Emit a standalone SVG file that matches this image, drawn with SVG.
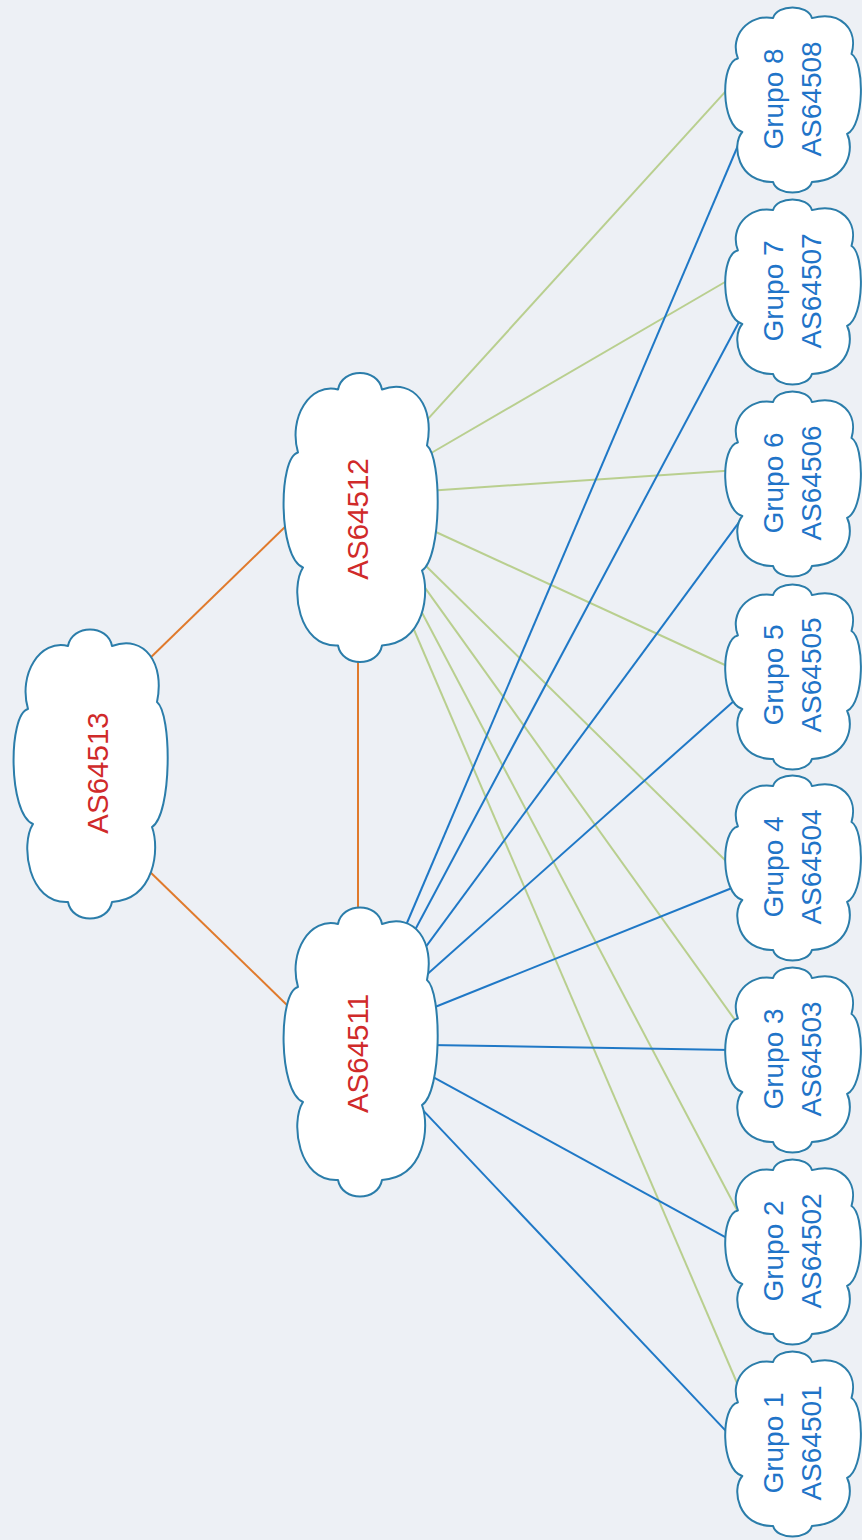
<svg xmlns="http://www.w3.org/2000/svg" xmlns:xlink="http://www.w3.org/1999/xlink" width="862" height="1540" viewBox="0 0 862 1540">
  <style>
    .cloud { fill: #ffffff; stroke: #2b7daa; stroke-width: 2; stroke-linejoin: round; }
    .big { font-family: "Liberation Sans", Arial, sans-serif; font-size: 29.5px; fill: #d02a2a; text-anchor: middle; }
    .small { font-family: "Liberation Sans", Arial, sans-serif; font-size: 28px; fill: #1f74c8; text-anchor: middle; }
    .orange { stroke: #e07a2c; stroke-width: 2; fill: none; }
    .blue { stroke: #1f78c6; stroke-width: 2; fill: none; }
    .green { stroke: #b9cf8f; stroke-width: 2; fill: none; }
  </style>
  <defs>
    <path id="bigCloud" class="cloud" d="M -22 -128 C -18 -150 18 -150 22 -128 C 55 -140 75 -110 67 -72 C 82 -60 82 40 62 53 C 70 75 65 125 22 128 C 18 150 -18 150 -22 128 C -62 130 -70 70 -57 50 C -82 40 -82 -60 -62 -65 C -72 -100 -50 -135 -22 -128 Z"/>
    <path id="smallCloud" class="cloud" d="M -19.4 -81.9 C -15.8 -96 15.8 -96 19.4 -81.9 C 48.4 -89.6 66 -70.4 59 -46 C 72.2 -38.4 72.2 25.6 54.6 33.9 C 61.6 48 57.2 80 19.4 81.9 C 15.8 96 -15.8 96 -19.4 81.9 C -54.6 83.2 -61.6 44.8 -50.2 32 C -72.2 25.6 -72.2 -38.4 -54.6 -41.6 C -63.4 -64 -44 -86.4 -19.4 -81.9 Z"/>
  </defs>
  <rect x="0" y="0" width="862" height="1540" fill="#edf0f5"/>

  <g id="connectors">
    <line class="orange" x1="143.7" y1="664.2" x2="289.3" y2="522.8"/>
    <line class="orange" x1="143.7" y1="865.8" x2="291.3" y2="1009.2"/>
    <line class="orange" x1="358" y1="656" x2="358" y2="913"/>

    <line class="green" x1="423" y1="424.4" x2="729" y2="87.6"/>
    <line class="green" x1="427.8" y1="455" x2="730.2" y2="279"/>
    <line class="green" x1="434" y1="490.4" x2="731" y2="470.6"/>
    <line class="green" x1="432.6" y1="530.5" x2="730.4" y2="667.5"/>
    <line class="green" x1="422.7" y1="562.8" x2="731.3" y2="866.2"/>
    <line class="green" x1="419.5" y1="580.1" x2="738.5" y2="1024.9"/>
    <line class="green" x1="415.2" y1="599.7" x2="740.8" y2="1217.3"/>
    <line class="green" x1="409.6" y1="619.5" x2="742.4" y2="1395.5"/>

    <line class="blue" x1="404.6" y1="928.5" x2="741.4" y2="137.5"/>
    <line class="blue" x1="412.2" y1="935.3" x2="741.8" y2="316.7"/>
    <line class="blue" x1="418.4" y1="956.8" x2="740.6" y2="520.2"/>
    <line class="blue" x1="418.5" y1="982" x2="739.5" y2="696"/>
    <line class="blue" x1="429.4" y1="1009.2" x2="737.6" y2="885.8"/>
    <line class="blue" x1="429" y1="1045" x2="731" y2="1050"/>
    <line class="blue" x1="427.7" y1="1074.1" x2="730.3" y2="1239.9"/>
    <line class="blue" x1="413.9" y1="1100.6" x2="729.1" y2="1434.4"/>
  </g>

  <g id="as64513">
    <use xlink:href="#bigCloud" transform="translate(90,774)"/>
    <text class="big" transform="translate(108,773) rotate(-90)">AS64513</text>
  </g>
  <g id="as64512">
    <use xlink:href="#bigCloud" transform="translate(360,517.5)"/>
    <text class="big" transform="translate(368,519) rotate(-90)">AS64512</text>
  </g>
  <g id="as64511">
    <use xlink:href="#bigCloud" transform="translate(360,1052)"/>
    <text class="big" transform="translate(368,1053.5) rotate(-90)">AS64511</text>
  </g>

  <g id="grupo8">
    <use xlink:href="#smallCloud" transform="translate(792.5,100)"/>
    <text class="small" transform="translate(783,99) rotate(-90)">Grupo 8</text>
    <text class="small" transform="translate(821,99) rotate(-90)">AS64508</text>
  </g>
  <g id="grupo7">
    <use xlink:href="#smallCloud" transform="translate(792.5,292)"/>
    <text class="small" transform="translate(783,291) rotate(-90)">Grupo 7</text>
    <text class="small" transform="translate(821,291) rotate(-90)">AS64507</text>
  </g>
  <g id="grupo6">
    <use xlink:href="#smallCloud" transform="translate(792.5,484)"/>
    <text class="small" transform="translate(783,483) rotate(-90)">Grupo 6</text>
    <text class="small" transform="translate(821,483) rotate(-90)">AS64506</text>
  </g>
  <g id="grupo5">
    <use xlink:href="#smallCloud" transform="translate(792.5,677)"/>
    <text class="small" transform="translate(783,675) rotate(-90)">Grupo 5</text>
    <text class="small" transform="translate(821,675) rotate(-90)">AS64505</text>
  </g>
  <g id="grupo4">
    <use xlink:href="#smallCloud" transform="translate(792.5,868)"/>
    <text class="small" transform="translate(783,867) rotate(-90)">Grupo 4</text>
    <text class="small" transform="translate(821,867) rotate(-90)">AS64504</text>
  </g>
  <g id="grupo3">
    <use xlink:href="#smallCloud" transform="translate(792.5,1060)"/>
    <text class="small" transform="translate(783,1059) rotate(-90)">Grupo 3</text>
    <text class="small" transform="translate(821,1059) rotate(-90)">AS64503</text>
  </g>
  <g id="grupo2">
    <use xlink:href="#smallCloud" transform="translate(792.5,1252)"/>
    <text class="small" transform="translate(783,1251) rotate(-90)">Grupo 2</text>
    <text class="small" transform="translate(821,1251) rotate(-90)">AS64502</text>
  </g>
  <g id="grupo1">
    <use xlink:href="#smallCloud" transform="translate(792.5,1444)"/>
    <text class="small" transform="translate(783,1443) rotate(-90)">Grupo 1</text>
    <text class="small" transform="translate(821,1443) rotate(-90)">AS64501</text>
  </g>
</svg>
